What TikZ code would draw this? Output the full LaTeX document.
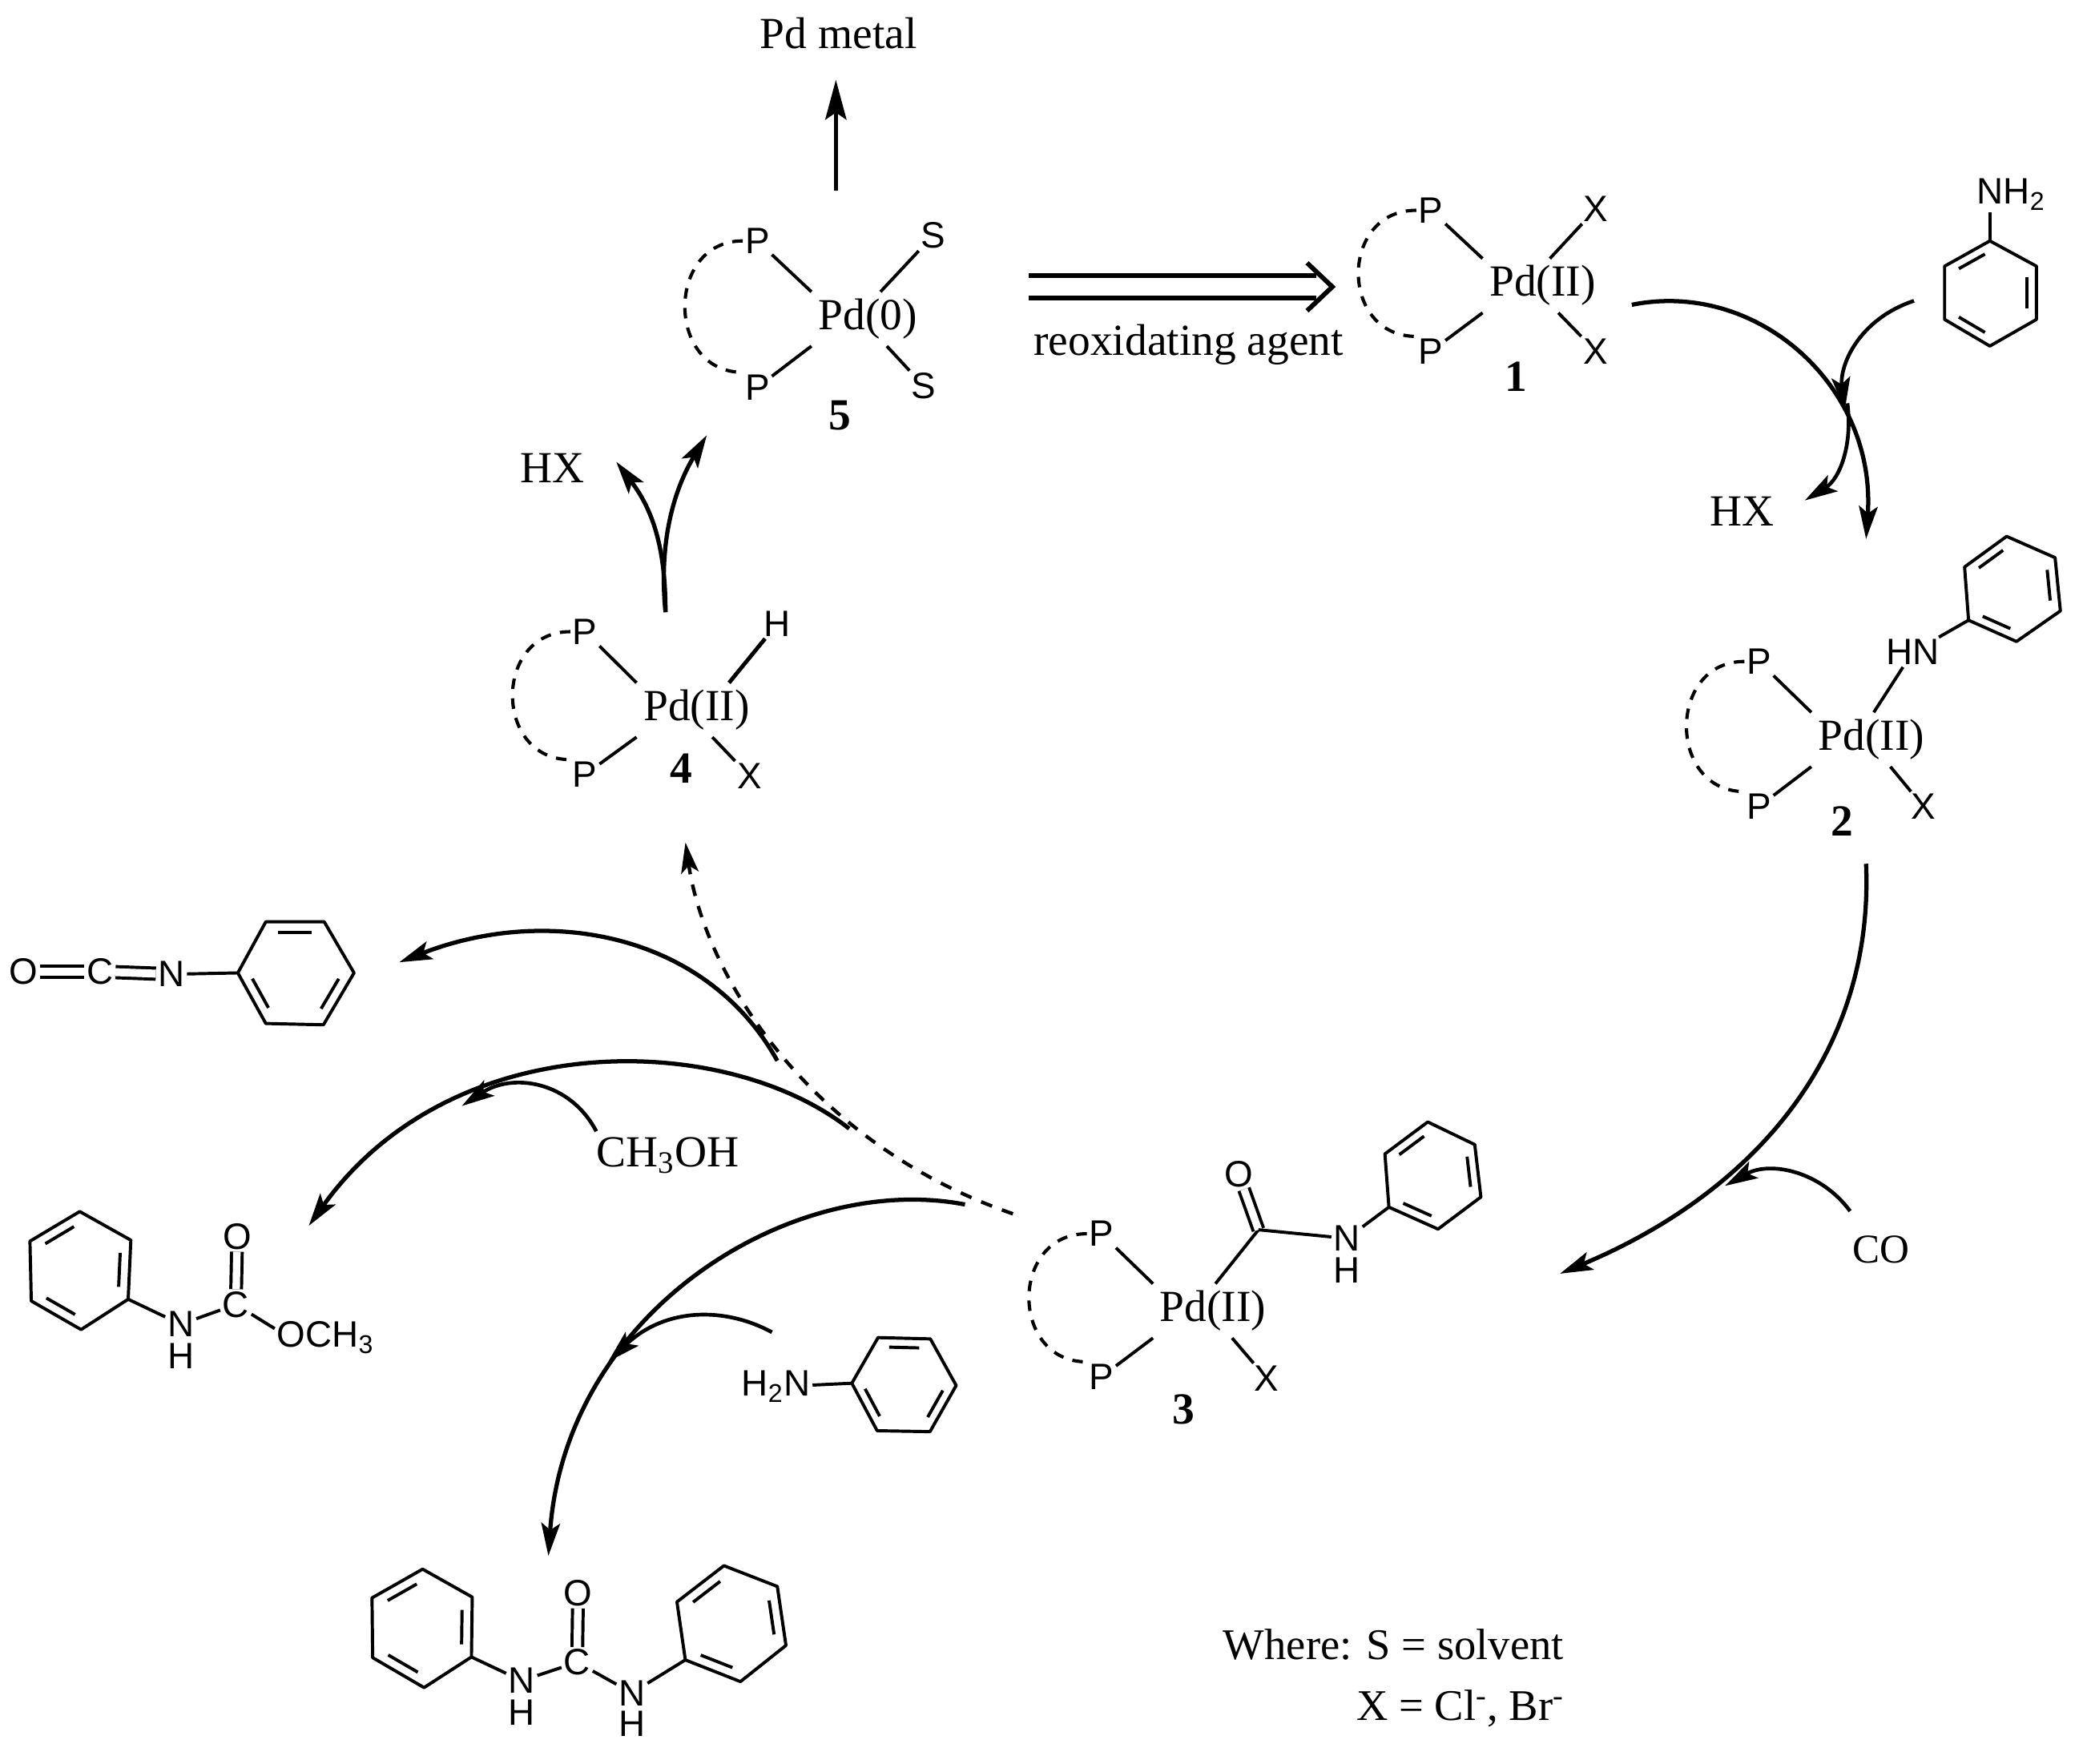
\documentclass[tikz,border=0pt]{standalone}
\usepackage{fontspec}
\setmainfont{Liberation Serif}
\setsansfont{Liberation Sans}
\usetikzlibrary{arrows.meta,calc}

% ring with three inner bonds on a-b, c-d, e-f
\newcommand{\phring}[7]{%
  \coordinate (#1a) at #2;
  \coordinate (#1b) at #3;
  \coordinate (#1c) at #4;
  \coordinate (#1d) at #5;
  \coordinate (#1e) at #6;
  \coordinate (#1f) at #7;
  \coordinate (#1o) at ($(#1a)!.5!(#1d)$);
  \draw[bond, line join=round] (#1a) -- (#1b) -- (#1c) -- (#1d) -- (#1e) -- (#1f) -- cycle;
  \foreach \u/\v in {a/b,c/d,e/f}
    \draw[bond] ($($(#1\u)!.14!(#1\v)$)!.2!(#1o)$) -- ($($(#1\v)!.14!(#1\u)$)!.2!(#1o)$);
}
% dashed chelate between two P atoms
\newcommand{\pring}[2]{\draw[ringdash] (#1.west) .. controls +(-58,0) and +(-58,0) .. (#2.north west);}

\begin{document}
\begin{tikzpicture}[
      x=0.2mm, y=-0.2mm,
      atom/.style={font=\sffamily\fontsize{15.7}{17}\selectfont, inner sep=0.5pt, outer sep=0.5pt},
      metal/.style={font=\fontsize{19}{22}\selectfont, inner sep=1pt, outer sep=2pt, yshift=-1.5pt},
      lbl/.style={font=\fontsize{19}{22}\selectfont, inner sep=1pt},
      num/.style={font=\fontsize{19}{22}\selectfont\bfseries, inner sep=1pt},
      bond/.style={line width=1.35pt},
      dbl/.style={bond, double, double distance=3.2pt},
      ringdash/.style={line width=1.4pt, dash pattern=on 4.5pt off 4pt},
      arr/.style={-{Stealth[length=14pt,width=8pt,inset=3pt]}, line width=1.8pt},
      thinarr/.style={arr, line width=1.6pt},
      bigarr/.style={-{Stealth[length=17pt,width=9pt,inset=3pt]}, line width=1.8pt}
    ]
      \useasboundingbox (0,0) rectangle (1568,1325.4);

      % Complex 5
      \node[lbl] (pdmetal) at (630,25) {Pd metal};
      \node[metal] (pd5) at (652,237) {Pd(0)};
      \node[atom] (p5a) at (569,181) {P};
      \node[atom] (p5b) at (569,291) {P};
      \node[atom] (s5a) at (701,177) {S};
      \node[atom] (s5b) at (694,290) {S};
      \node[num] (n5) at (631,312) {5};
      \draw[bond] (p5a) -- (pd5.north west);
      \draw[bond] (p5b) -- (pd5.south west);
      \draw[bond] (s5a) -- (pd5.65);
      \draw[bond] (s5b) -- (pd5.-55);
      \pring{p5a}{p5b}
      \coordinate (up5) at (628,143);
      \draw[bigarr, shorten >=12pt] (up5) -- (pdmetal.south -| up5);

      % Reoxidation
      \coordinate (reoxs) at (773,215.5);
      \coordinate (reoxt) at (1001,215.5);
      \draw[line width=2pt, double, double distance=7.6pt, shorten >=7pt] (reoxs) -- (reoxt);
      \draw[line width=2pt] (reoxt) ++(-19,-18) -- ++(19,18) -- ++(-19,18);
      \node[lbl] (reox) at (893,259) {reoxidating agent};

      % Complex 1
      \node[metal] (pd1) at (1159,212) {Pd(II)};
      \node[atom] (p1a) at (1075,158) {P};
      \node[atom] (p1b) at (1075,264) {P};
      \node[atom] (x1a) at (1199,157) {X};
      \node[atom] (x1b) at (1199,264) {X};
      \node[num] (n1) at (1139,283) {1};
      \draw[bond] (p1a) -- (pd1.north west);
      \draw[bond] (p1b) -- (pd1.south west);
      \draw[bond] (x1a) -- (pd1.75);
      \draw[bond] (x1b) -- (pd1.-60);
      \pring{p1a}{p1b}

      % Aniline and HX at the first step
      \phring{pha}{(1461,200)}{(1495,181)}{(1530,200)}{(1530,240)}{(1495,260)}{(1461,240)}
      \node[atom] (nh2a) at (1511,146) {NH\textsubscript{2}};
      \draw[bond] (phab) -- (phab |- nh2a.south);
      \node[lbl] (hx1) at (1309,384) {HX};
      \coordinate (st1) at (1226,229);
      \coordinate (tip2) at (1402,405);
      \coordinate (sta) at (1438,226);
      \coordinate (mida) at (1386,308);
      \coordinate (hxs) at (1388,303);
      \coordinate (hxt) at (1356,376);
      \draw[arr] (st1) .. controls (1320,210) and (1410,290) .. (tip2);
      \draw[thinarr] (sta) .. controls (1396,240) and (1382,275) .. (mida);
      \draw[thinarr] (hxs) .. controls (1392,335) and (1382,360) .. (hxt);

      % Complex 2
      \node[metal] (pd2) at (1406,553) {Pd(II)};
      \node[atom] (p2a) at (1321.5,497) {P};
      \node[atom] (p2b) at (1321.5,606) {P};
      \node[atom] (x2) at (1445,606) {X};
      \node[atom] (hn2) at (1437,490) {HN};
      \node[num] (n2) at (1384,617) {2};
      \draw[bond] (p2a) -- (pd2.north west);
      \draw[bond] (p2b) -- (pd2.south west);
      \draw[bond] (hn2) -- (pd2.85);
      \draw[bond] (x2) -- (pd2.-55);
      \pring{p2a}{p2b}
      \phring{phb}{(1476,426)}{(1507.6,403)}{(1544,419)}{(1548,459)}{(1515,482)}{(1479,466)}
      \draw[bond] (hn2) -- (phbf);

      % CO insertion
      \coordinate (st2) at (1402,649);
      \coordinate (tip3) at (1172,957);
      \draw[arr] (st2) .. controls (1408,790) and (1320,895) .. (tip3);
      \coordinate (sco) at (1390,910);
      \coordinate (tco) at (1296,891);
      \node[lbl, font=\fontsize{17.5}{20}\selectfont] (co) at (1413,939) {CO};
      \draw[thinarr] (sco) .. controls (1368,880) and (1330,872) .. (tco);

      % Complex 3
      \node[metal] (pd3) at (911.4,982.3) {Pd(II)};
      \node[atom] (p3a) at (827.5,927) {P};
      \node[atom] (p3b) at (827.5,1034.5) {P};
      \node[atom] (x3) at (951.4,1035.5) {X};
      \node[atom] (o3) at (930.5,882) {O};
      \node[atom] (n3) at (1012,930.5) {N};
      \node[atom] (h3) at (1012,954.6) {H};
      \node[num] (n3l) at (889.5,1059) {3};
      \coordinate (c3) at (945.5,924);
      \draw[bond] (p3a) -- (pd3.north west);
      \draw[bond] (p3b) -- (pd3.south west);
      \draw[bond] (x3) -- (pd3.-55);
      \draw[bond] (pd3.85) -- (c3);
      \draw[dbl] (c3) -- (o3);
      \draw[bond] (c3) -- (n3);
      \pring{p3a}{p3b}
      \phring{phc}{(1040.5,867)}{(1072.7,843)}{(1108,860)}{(1112.6,899.4)}{(1080.4,923.5)}{(1043.5,907)}
      \draw[bond] (n3) -- (phcf);

      % Complex 4
      \node[metal] (pd4) at (523.4,530.8) {Pd(II)};
      \node[atom] (p4a) at (439.5,474.6) {P};
      \node[atom] (p4b) at (439.5,582) {P};
      \node[atom] (h4) at (584,468.6) {H};
      \node[atom] (x4) at (563,583) {X};
      \node[num] (n4) at (511.7,577.6) {4};
      \draw[bond] (p4a) -- (pd4.north west);
      \draw[bond] (p4b) -- (pd4.south west);
      \draw[bond, line width=1.7pt] (h4) -- (pd4.40);
      \draw[bond] (x4) -- (pd4.-60);
      \pring{p4a}{p4b}

      % Loss of HX
      \node[lbl] (hx2) at (415,352) {HX};
      \coordinate (st4) at (500,460);
      \coordinate (tip5) at (531,327);
      \coordinate (tiphx) at (463,347);
      \draw[arr] (st4) .. controls (495,410) and (505,370) .. (tip5);
      \draw[arr] (st4) .. controls (500,415) and (492,385) .. (tiphx);

      % Dashed route back to 4
      \coordinate (st3) at (761,912);
      \coordinate (tip4) at (515,633);
      \draw[line width=1.5pt, dash pattern=on 5pt off 4.5pt, -{Stealth[length=13pt,width=7.5pt,inset=3pt]}] (st3) .. controls (610,860) and (530,735) .. (tip4);

      % Isocyanate
      \node[atom] (oi) at (17.5,730) {O};
      \node[atom] (ci) at (75,730) {C};
      \node[atom] (ni) at (128.8,732) {N};
      \draw[dbl, double distance=3.4pt] (oi) -- (ci);
      \draw[dbl, double distance=3.4pt] (ci) -- (ni);
      \phring{phd}{(199.7,692.6)}{(243.6,692.6)}{(266,731)}{(243,770)}{(199.7,769)}{(178.7,731)}
      \draw[bond] (ni) -- (phdf);
      \coordinate (sti) at (584,797);
      \coordinate (tipi) at (300,723);
      \draw[arr] (sti) .. controls (530,700) and (410,680) .. (tipi);

      % Carbamate
      \phring{phe}{(22.5,932.6)}{(59.9,910.3)}{(98.3,931.8)}{(96.3,976.2)}{(60.9,999)}{(23.5,977.5)}
      \node[atom] (nc) at (135.8,995) {N};
      \node[atom] (hc) at (135.8,1019) {H};
      \node[atom] (cc) at (177.2,980.2) {C};
      \node[atom] (oc) at (178.2,929) {O};
      \node[atom] (omc) at (244.6,1005) {OCH\textsubscript{3}};
      \draw[bond] (phed) -- (nc);
      \draw[bond] (nc) -- (cc);
      \draw[dbl] (cc) -- (oc);
      \draw[bond] (cc) -- (omc.170);
      \coordinate (stc) at (638,848);
      \coordinate (tipc) at (232,921);
      \draw[arr] (stc) .. controls (545,775) and (340,770) .. (tipc);
      \node[lbl] (meoh) at (501.7,868) {CH\textsubscript{3}OH};
      \coordinate (sm) at (448,850);
      \coordinate (tm) at (347,831);
      \draw[thinarr] (sm) .. controls (428,812) and (385,806) .. (tm);

      % Urea
      \phring{phf}{(279.5,1200.6)}{(317.5,1179)}{(354.8,1200)}{(354.2,1245)}{(318.6,1268)}{(280,1245.5)}
      \phring{phg}{(508.6,1203.6)}{(543.9,1176.4)}{(584,1192)}{(590.5,1236.3)}{(556.3,1263.5)}{(514.9,1247.2)}
      \node[atom] (nu1) at (392,1262.8) {N};
      \node[atom] (hu1) at (392,1287) {H};
      \node[atom] (cu) at (433.6,1249) {C};
      \node[atom] (ou) at (434.3,1197) {O};
      \node[atom] (nu2) at (474.8,1272) {N};
      \node[atom] (hu2) at (474.8,1295) {H};
      \draw[bond] (phfd) -- (nu1);
      \draw[bond] (nu1) -- (cu);
      \draw[bond] (cu) -- (nu2);
      \draw[dbl] (cu) -- (ou);
      \draw[bond] (nu2) -- (phgf);
      \coordinate (stu) at (725,905);
      \coordinate (tipu) at (412,1169);
      \draw[arr] (stu) .. controls (595,880) and (425,985) .. (tipu);

      % Second aniline
      \node[atom] (nh2b) at (583,1042) {H\textsubscript{2}N};
      \phring{phh}{(659.7,1005)}{(699,1006)}{(718.4,1041)}{(698.7,1075.7)}{(659,1075)}{(640,1039.3)}
      \draw[bond] (nh2b) -- (phhf);
      \coordinate (san) at (580,1001);
      \coordinate (tan) at (457,1023);
      \draw[thinarr] (san) .. controls (545,982) and (500,982) .. (tan);

      % Legend
      \node[lbl, anchor=west, font=\fontsize{18.7}{22}\selectfont] (legs) at (917,1236) {Where: S = solvent};
      \node[lbl, anchor=west, font=\fontsize{18.7}{22}\selectfont] (legx) at (1017,1284) {X = Cl\textsuperscript{-}, Br\textsuperscript{-}};
    \end{tikzpicture}
\end{document}
